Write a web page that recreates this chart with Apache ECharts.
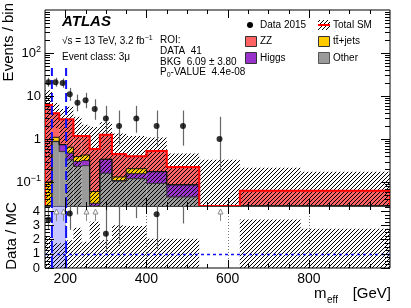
<!DOCTYPE html>
<html><head><meta charset="utf-8">
<script src="https://cdn.jsdelivr.net/npm/echarts@6/dist/echarts.min.js"></script>
<style>html,body{margin:0;padding:0;background:#fff}#c{width:411px;height:308px}</style>
</head><body><div id="c"></div>
<script>
// ---------------- data ----------------
const binEdges   = [150,167,185,202,220,240,260,285,315,350,400,450,530,630,780,1000];
const other      = [0.01, 0.87, 0.51, 0.33, 0.23, 0.24, 0.005, 0.16, 0.105, 0.12, 0.093, 0.045, 0, 0, 0];
const higgs      = [0.005,0.015,0.22, 0.14, 0.07, 0.075,0.027, 0.175,0.003, 0.036,0.08,  0.04,  0, 0, 0];
const ttbar      = [0.085,0.21, 0.015,0.175,0.09, 0.11, 0.028, 0.006,0.023, 0.048,0.003, 0.002, 0, 0, 0];
const zz         = [6.1,  2.86, 2.13, 2.23, 0.78, 0.745,0.525, 0.91, 0.32,  0.196,0.354, 0.137, 0, 0.063, 0.063];
const bandLow    = [0.001,1.8,  0.8,  0.001,0.001,0.31, 0.001, 0.001,0.001, 0.001,0.001, 0.001, 0.001, 0.001, 0.001];
const bandHigh   = [13.6, 6.9,  5.0,  5.6,  3.3,  2.15, 1.9,   2.45, 1.35,  1.18, 1.09,  0.46,  0.33, 0.214, 0.173];
const dataCounts = [21, 21, 20, 11, 7, 8, 5, 3, 2, 3, 2, 2, 1, 0, 0];
const dataErrLo  = [16.5,16.5,15.6,7.7,4.4,5.2,2.8,1.4,0.7,1.4,0.7,0.7,0.17,0,0];
const dataErrHi  = [26.6,26.6,25.5,15.4,10.8,11.9,8.4,5.9,4.6,5.9,4.6,4.6,3.3,0,0];
const ratioArrowBins = [1, 2, 5, 6, 12];
const roiRange   = [167, 202];
const roiLineTop = 45;
const xTickLabels = [200, 400, 600, 800];
const xMinorTicks = [250,300,350,450,500,550,650,700,750,850,900,950];
const yMainLabels = [0.1, 1, 10, 100];
const yMainLabelText = ['10^-1', '1', '10', '10^2'];
const yMainMinor = [0.03,0.04,0.05,0.06,0.07,0.08,0.09,0.2,0.3,0.4,0.5,0.6,0.7,0.8,0.9,2,3,4,5,6,7,8,9,20,30,40,50,60,70,80,90,200,300,400,500,600,700,800,900];
const yRatioLabels = [0, 1, 2, 3, 4];
const yRatioMinor = [0.25,0.5,0.75,1.25,1.5,1.75,2.25,2.5,2.75,3.25,3.5,3.75,4.25];

// ---------------- setup ----------------
const X0 = 150, X1 = 1000, YMIN = 0.0277, YMAX = 1000, RMAX = 4.35, FLOOR = 1e-5;
const FONT = '"Liberation Sans", Arial, Helvetica, sans-serif';
const COL = {other:'#9a9a9a', higgs:'#9933cc', ttbar:'#ffcc00', zz:'#ff6262', total:'#ff0000', roi:'#1010ff'};
const nb = binEdges.length - 1;

function makeHatch(color){
  const s = 4, c = document.createElement('canvas'); c.width = s; c.height = s;
  const g = c.getContext('2d'); g.strokeStyle = color; g.lineWidth = 1;
  g.beginPath();
  g.moveTo(-1, s+1); g.lineTo(s+1, -1);
  g.moveTo(-1, 1); g.lineTo(1, -1);
  g.moveTo(s-1, s+1); g.lineTo(s+1, s-1);
  g.stroke();
  return c;
}
const hatch = {image: makeHatch('#000'), repeat: 'repeat'};

// cumulative stack levels
const cumOther = other.slice();
const cumHiggs = cumOther.map((v,i)=>v+higgs[i]);
const cumTtbar = cumHiggs.map((v,i)=>v+ttbar[i]);
const total    = cumTtbar.map((v,i)=>v+zz[i]);
const centers  = binEdges.slice(0,-1).map((e,i)=>(e+binEdges[i+1])/2);

function layerData(lo, hi){
  return binEdges.slice(0,-1).map((e,i)=>[e, binEdges[i+1], Math.max(lo[i],FLOOR), Math.max(hi[i],FLOOR)]);
}
function rectRender(fill){
  return function(params, api){
    const x0=api.value(0), x1=api.value(1), y0=api.value(2), y1=api.value(3);
    if (!(y1 > y0)) return null;
    const a = api.coord([x0,y0]), b = api.coord([x1,y1]);
    return {type:'rect', shape:{x:a[0], y:b[1], width:b[0]-a[0], height:a[1]-b[1]}, style:{fill:fill}};
  };
}
function layerSeries(lo, hi, fill, z){
  return {type:'custom', xAxisIndex:0, yAxisIndex:0, clip:true, z:z, silent:true,
    encode:{x:[0,1], y:[2,3]}, data: layerData(lo, hi), renderItem: rectRender(fill)};
}
function stepPts(api, vals){
  const pts = [api.coord([binEdges[0], YMIN])];
  for (let i=0;i<nb;i++){
    const v = Math.max(vals[i], YMIN);
    pts.push(api.coord([binEdges[i], v])); pts.push(api.coord([binEdges[i+1], v]));
  }
  pts.push(api.coord([binEdges[nb], YMIN]));
  return pts;
}
const px = v => Math.round(v) + 0.5;

const zeros = new Array(nb).fill(FLOOR);
const ratioBandHi = total.map((t,i)=> t>0 ? bandHigh[i]/t : 0);

const series = [
  layerSeries(zeros, cumOther, COL.other, 1),
  layerSeries(cumOther, cumHiggs, COL.higgs, 1),
  layerSeries(cumHiggs, cumTtbar, COL.ttbar, 1),
  layerSeries(cumTtbar, total, COL.zz, 1),
  layerSeries(bandLow, bandHigh, hatch, 2),
  { // outlines
    type:'custom', xAxisIndex:0, yAxisIndex:0, clip:true, z:3, silent:true,
    encode:{x:0,y:1}, data:[[200,1]],
    renderItem:(params, api)=>({type:'group', children:[
      {type:'polyline', shape:{points:stepPts(api, cumOther)}, style:{stroke:'#333', lineWidth:1, fill:null}},
      {type:'polyline', shape:{points:stepPts(api, cumHiggs)}, style:{stroke:'#222', lineWidth:1, fill:null}},
      {type:'polyline', shape:{points:stepPts(api, cumTtbar)}, style:{stroke:'#111', lineWidth:1, fill:null}},
      {type:'polyline', shape:{points:stepPts(api, total)}, style:{stroke:COL.total, lineWidth:2, fill:null}}
    ]})
  },
  { // ROI dashed lines, main panel
    type:'custom', xAxisIndex:0, yAxisIndex:0, clip:true, z:4, silent:true,
    encode:{x:0,y:1}, data:[[200,1]],
    renderItem:(params, api)=>({type:'group', children: roiRange.map(r=>{
      const a = api.coord([r, YMIN]), b = api.coord([r, roiLineTop]);
      return {type:'line', shape:{x1:a[0], y1:a[1], x2:b[0], y2:b[1]}, style:{stroke:COL.roi, lineWidth:2, lineDash:[9,4]}};
    })})
  },
  { // data error bars
    type:'custom', xAxisIndex:0, yAxisIndex:0, clip:true, z:5, silent:true,
    encode:{x:0,y:[1,2]},
    data: centers.map((c,i)=>[c, Math.max(dataErrLo[i],FLOOR), Math.max(dataErrHi[i],FLOOR), dataCounts[i]]).filter(d=>d[3]>0),
    renderItem:(params, api)=>{
      const a = api.coord([api.value(0), api.value(1)]), b = api.coord([api.value(0), api.value(2)]);
      return {type:'line', shape:{x1:px(a[0]), y1:a[1], x2:px(a[0]), y2:b[1]}, style:{stroke:'#666', lineWidth:1.2}};
    }
  },
  { type:'scatter', xAxisIndex:0, yAxisIndex:0, z:6, silent:true, symbol:'circle', symbolSize:6,
    itemStyle:{color:'#000'},
    data: centers.map((c,i)=>[c, dataCounts[i]]).filter(d=>d[1]>0) },
  { // ticks main
    type:'custom', xAxisIndex:0, yAxisIndex:0, clip:false, z:10, silent:true,
    encode:{x:0,y:1}, data:[[200,1]],
    renderItem:(params, api)=>{
      const ch = [];
      const tl = api.coord([X0, YMAX]), br = api.coord([X1, YMIN]);
      const L=tl[0], R=br[0], T=tl[1], B=br[1];
      const ln=(x1,y1,x2,y2)=>ch.push({type:'line', shape:{x1,y1,x2,y2}, style:{stroke:'#000', lineWidth:1}});
      xTickLabels.forEach(v=>{const x=px(api.coord([v,1])[0]); ln(x,T,x,T+8); ln(x,B,x,B-8);});
      xMinorTicks.forEach(v=>{const x=px(api.coord([v,1])[0]); ln(x,T,x,T+4); ln(x,B,x,B-4);});
      yMainLabels.forEach(v=>{const y=px(api.coord([200,v])[1]); ln(L,y,L+9,y); ln(R,y,R-9,y);});
      yMainMinor.forEach(v=>{const y=px(api.coord([200,v])[1]); ln(L,y,L+5,y); ln(R,y,R-5,y);});
      return {type:'group', children:ch};
    }
  },
  // ---------- ratio panel ----------
  { // ROI fill + grid lines
    type:'custom', xAxisIndex:1, yAxisIndex:1, clip:true, z:1, silent:true,
    encode:{x:0,y:1}, data:[[200,1]],
    renderItem:(params, api)=>{
      const ch = [];
      const a = api.coord([roiRange[0], 0]), b = api.coord([roiRange[1], RMAX]);
      ch.push({type:'rect', shape:{x:a[0], y:b[1], width:b[0]-a[0], height:a[1]-b[1]}, style:{fill:'rgba(110,110,255,0.4)'}});
      xTickLabels.forEach(v=>{
        const p = api.coord([v,0]), q = api.coord([v,RMAX]);
        ch.push({type:'line', shape:{x1:px(p[0]), y1:p[1], x2:px(p[0]), y2:q[1]}, style:{stroke:'#777', lineWidth:1, lineDash:[1,2]}});
      });
      return {type:'group', children:ch};
    }
  },
  {
    type:'custom', xAxisIndex:1, yAxisIndex:1, clip:true, z:2, silent:true,
    encode:{x:[0,1], y:[2,3]},
    data: binEdges.slice(0,-1).map((e,i)=>[e, binEdges[i+1], 0, ratioBandHi[i]]),
    renderItem:(params, api)=>{
      const y1 = api.value(3); if (!(y1>0)) return null;
      const a = api.coord([api.value(0), 0]), b = api.coord([api.value(1), y1]);
      return {type:'rect', shape:{x:a[0], y:b[1], width:b[0]-a[0], height:a[1]-b[1]}, style:{fill:hatch}};
    }
  },
  { // unity line + ROI lines
    type:'custom', xAxisIndex:1, yAxisIndex:1, clip:true, z:3, silent:true,
    encode:{x:0,y:1}, data:[[200,1]],
    renderItem:(params, api)=>{
      const ch = [];
      const a = api.coord([X0,1]), b = api.coord([X1,1]);
      ch.push({type:'line', shape:{x1:a[0], y1:px(a[1]), x2:b[0], y2:px(a[1])}, style:{stroke:COL.roi, lineWidth:1.5, lineDash:[3,3]}});
      roiRange.forEach(r=>{
        const p = api.coord([r,0]), q = api.coord([r,RMAX]);
        ch.push({type:'line', shape:{x1:p[0], y1:p[1], x2:q[0], y2:q[1]}, style:{stroke:COL.roi, lineWidth:2, lineDash:[12,3]}});
      });
      return {type:'group', children:ch};
    }
  },
  { // ratio error bars and arrows
    type:'custom', xAxisIndex:1, yAxisIndex:1, clip:true, z:4, silent:true,
    encode:{x:0,y:1},
    data: centers.map((c,i)=>[c, dataCounts[i], total[i], dataErrLo[i], dataErrHi[i], i]).filter(d=>d[1]>0),
    renderItem:(params, api)=>{
      const c=api.value(0), n=api.value(1), t=api.value(2), lo=api.value(3), hi=api.value(4), i=api.value(5);
      if (ratioArrowBins.indexOf(i) >= 0){
        const p = api.coord([c, RMAX]); const x = px(p[0]), y = p[1];
        return {type:'group', children:[
          {type:'polygon', shape:{points:[[x, y+3],[x-2.5, y+8],[x+2.5, y+8]]}, style:{stroke:'#888', fill:'#fff', lineWidth:1}},
          {type:'line', shape:{x1:x, y1:y+8, x2:x, y2:y+15}, style:{stroke:'#888', lineWidth:1}}
        ]};
      }
      if (!(t>0)) return null;
      const a = api.coord([c, lo/t]), b = api.coord([c, Math.min(hi/t, RMAX)]);
      return {type:'line', shape:{x1:px(a[0]), y1:a[1], x2:px(a[0]), y2:b[1]}, style:{stroke:'#666', lineWidth:1.2}};
    }
  },
  { type:'scatter', xAxisIndex:1, yAxisIndex:1, z:5, silent:true, symbol:'circle', symbolSize:6,
    itemStyle:{color:'#000'},
    data: centers.map((c,i)=>[c, total[i]>0 ? dataCounts[i]/total[i] : -1]).filter(d=>d[1]>0 && d[1]<=RMAX) },
  { // ticks ratio
    type:'custom', xAxisIndex:1, yAxisIndex:1, clip:false, z:10, silent:true,
    encode:{x:0,y:1}, data:[[200,1]],
    renderItem:(params, api)=>{
      const ch = [];
      const tl = api.coord([X0, RMAX]), br = api.coord([X1, 0]);
      const L=tl[0], R=br[0], T=tl[1], B=br[1];
      const ln=(x1,y1,x2,y2)=>ch.push({type:'line', shape:{x1,y1,x2,y2}, style:{stroke:'#000', lineWidth:1}});
      xTickLabels.forEach(v=>{const x=px(api.coord([v,0])[0]); ln(x,T,x,T+8); ln(x,B,x,B-8);});
      xMinorTicks.forEach(v=>{const x=px(api.coord([v,0])[0]); ln(x,T,x,T+4); ln(x,B,x,B-4);});
      yRatioLabels.forEach(v=>{const y=px(api.coord([200,v])[1]); ln(L,y,L+9,y); ln(R,y,R-9,y);});
      yRatioMinor.forEach(v=>{const y=px(api.coord([200,v])[1]); ln(L,y,L+5,y); ln(R,y,R-5,y);});
      return {type:'group', children:ch};
    }
  }
];

function supLabel(v){
  let k = 0, best = 1e9;
  yMainLabels.forEach((m,j)=>{const d=Math.abs(Math.log10(v)-Math.log10(m)); if(d<best){best=d;k=j;}});
  const s = yMainLabelText[k].split('^');
  return s.length>1 ? '{b|'+s[0]+'}{s|'+s[1].replace('-','\u2212')+'}' : '{b|'+s[0]+'}';
}

const txt = (x,y,text,size,extra)=>Object.assign({type:'text', x:x, y:y, silent:true,
  style:Object.assign({text:text, fontFamily:FONT, fontSize:size, fill:'#000', align:'left', verticalAlign:'middle'}, extra||{})});

const graphic = [
  txt(62, 22, 'ATLAS', 15, {fontWeight:'bold', fontStyle:'italic'}),
  txt(62, 41, '{a|\u221As = 13 TeV, 3.2 fb}{s|\u22121}', 10, {rich:{a:{fontFamily:FONT,fontSize:10,lineHeight:13}, s:{fontFamily:FONT,fontSize:7,verticalAlign:'top',lineHeight:13}}}),
  txt(62, 57, 'Event class: 3\u03bc', 10),
  txt(160, 40.5, 'ROI:', 10),
  txt(160, 51.5, 'DATA  41', 10),
  txt(160, 62, 'BKG  6.09 \u00b1 3.80', 10),
  txt(160, 72.5, '{a|P}{s|0}{a|-VALUE  4.4e-08}', 10, {rich:{a:{fontFamily:FONT,fontSize:10,lineHeight:12}, s:{fontFamily:FONT,fontSize:7,verticalAlign:'bottom',lineHeight:12}}}),
  // legend
  {type:'circle', silent:true, shape:{cx:250, cy:25, r:3}, style:{fill:'#000'}},
  txt(260, 25, 'Data 2015', 10),
  {type:'rect', silent:true, shape:{x:318, y:20, width:12, height:10}, style:{fill:hatch}},
  {type:'line', silent:true, shape:{x1:318, y1:25, x2:330, y2:25}, style:{stroke:COL.total, lineWidth:2}},
  txt(333, 25, 'Total SM', 10),
  {type:'rect', silent:true, shape:{x:245.5, y:36.5, width:11, height:10}, style:{fill:COL.zz, stroke:'#333', lineWidth:1}},
  txt(260, 41.5, 'ZZ', 10),
  {type:'rect', silent:true, shape:{x:318.5, y:36.5, width:11, height:10}, style:{fill:COL.ttbar, stroke:'#333', lineWidth:1}},
  txt(333, 41.5, 't{o|t\u0304}+jets', 10, {rich:{o:{fontFamily:FONT,fontSize:10}}}),
  {type:'rect', silent:true, shape:{x:245.5, y:52.5, width:11, height:11}, style:{fill:COL.higgs, stroke:'#333', lineWidth:1}},
  txt(260, 58, 'Higgs', 10),
  {type:'rect', silent:true, shape:{x:318.5, y:52.5, width:11, height:11}, style:{fill:COL.other, stroke:'#555', lineWidth:1}},
  txt(333, 58, 'Other', 10),
  // axis titles
  Object.assign(txt(9, 3, 'Events / bin', 15, {align:'right'}), {rotation:Math.PI/2}),
  Object.assign(txt(12, 236, 'Data / MC', 15, {align:'center'}), {rotation:Math.PI/2}),
  txt(314, 294, 'm', 15),
  txt(327, 300, 'eff', 10),
  txt(391, 294, '[GeV]', 15, {align:'right'})
];

const option = {
  animation:false,
  textStyle:{fontFamily:FONT},
  grid:[
    {left:45, top:10, width:345, height:196, show:true, borderColor:'#000', borderWidth:1, backgroundColor:'transparent'},
    {left:45, top:206, width:345, height:62, show:true, borderColor:'#000', borderWidth:1, backgroundColor:'transparent'}
  ],
  xAxis:[
    {type:'value', gridIndex:0, min:X0, max:X1, axisLine:{show:false}, axisTick:{show:false}, axisLabel:{show:false}, splitLine:{show:false}},
    {type:'value', gridIndex:1, min:X0, max:X1, axisLine:{show:false}, axisTick:{show:false}, splitLine:{show:false},
     axisLabel:{show:true, customValues:xTickLabels, fontSize:14, color:'#000', margin:4, fontFamily:FONT}}
  ],
  yAxis:[
    {type:'log', gridIndex:0, logBase:10, min:YMIN, max:YMAX, axisLine:{show:false}, axisTick:{show:false}, splitLine:{show:false},
     axisLabel:{show:true, customValues:yMainLabels, margin:4, color:'#000', formatter:supLabel,
       rich:{b:{fontSize:13, fontFamily:FONT, color:'#000', lineHeight:16}, s:{fontSize:9, fontFamily:FONT, color:'#000', verticalAlign:'top', lineHeight:16}}}},
    {type:'value', gridIndex:1, min:0, max:RMAX, axisLine:{show:false}, axisTick:{show:false}, splitLine:{show:false},
     axisLabel:{show:true, customValues:yRatioLabels, fontSize:13, color:'#000', margin:5, fontFamily:FONT}}
  ],
  graphic: graphic,
  series: series
};
const chart = echarts.init(document.getElementById('c'), null, {renderer:'canvas'});
chart.setOption(option);
</script></body></html>
